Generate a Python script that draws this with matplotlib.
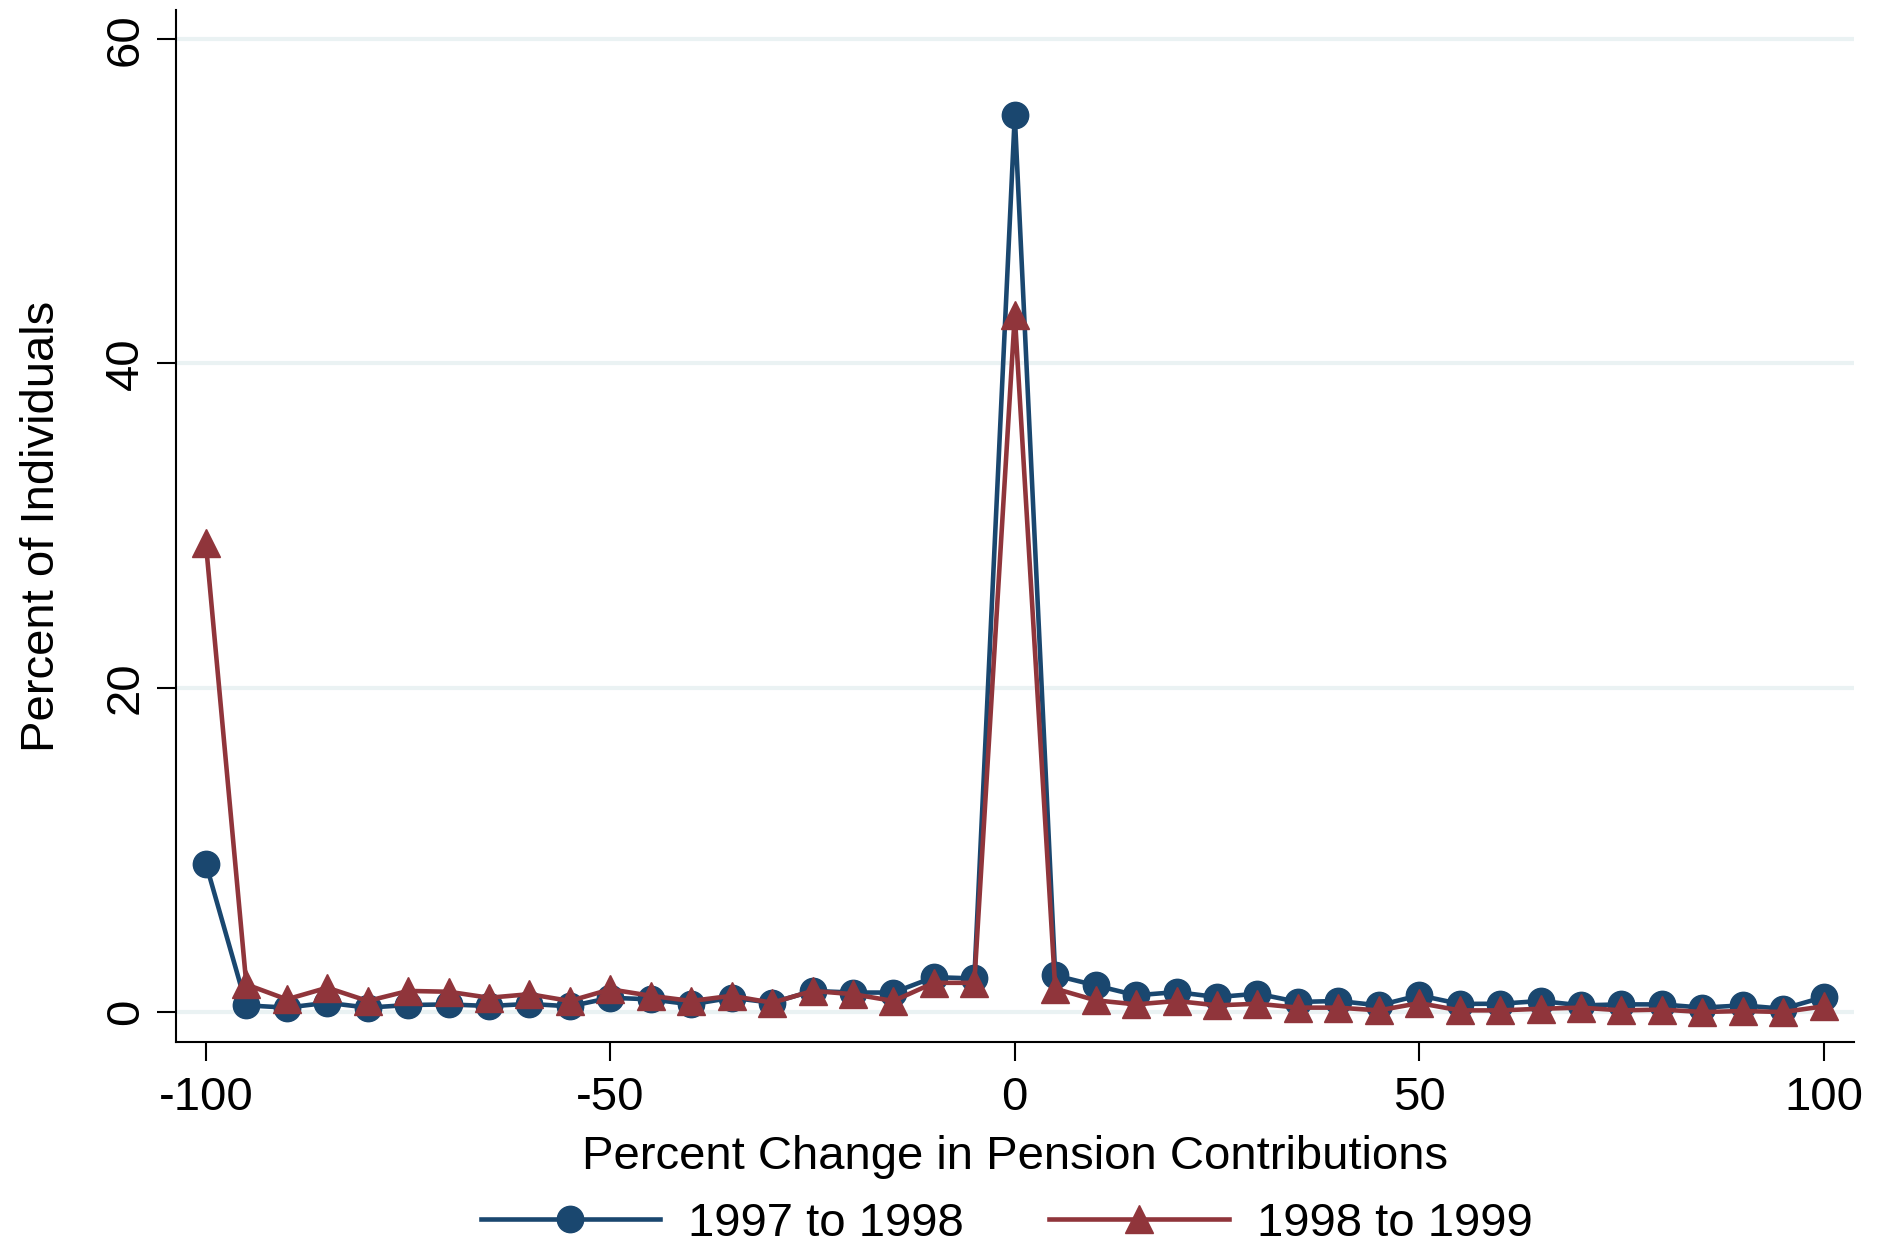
import matplotlib.pyplot as plt

plt.rcParams['font.family'] = ['Liberation Sans', 'DejaVu Sans']
plt.rcParams['axes.unicode_minus'] = False

# percent change bins, -100 to 100 in steps of 5
pct_change = list(range(-100, 105, 5))

# 1997 to 1998
share_9798 = [9.15, 0.41, 0.27, 0.57, 0.27, 0.43, 0.47, 0.37, 0.5, 0.35,
              0.88, 0.78, 0.47, 0.88, 0.57, 1.3, 1.2, 1.2, 2.15, 2.07,
              55.3,
              2.26, 1.64, 1.03, 1.23, 0.92, 1.13, 0.62, 0.68, 0.41, 1.03,
              0.5, 0.51, 0.68, 0.41, 0.47, 0.47, 0.27, 0.41, 0.2, 0.92]

# 1998 to 1999
share_9899 = [28.9, 1.7, 0.78, 1.5, 0.68, 1.3, 1.25, 0.88, 1.1, 0.68,
              1.4, 1.0, 0.68, 1.0, 0.57, 1.3, 1.1, 0.68, 1.8, 1.8,
              43.0,
              1.44, 0.72, 0.47, 0.68, 0.41, 0.51, 0.27, 0.27, 0.1, 0.55,
              0.1, 0.1, 0.2, 0.27, 0.1, 0.15, 0.0, 0.06, 0.0, 0.35]

navy = '#1a476f'
maroon = '#90353b'
fs = 34

fig = plt.figure(figsize=(18.78, 12.43), dpi=100)
ax = fig.add_axes([0.0937, 0.1617, 0.8933, 0.8303])

ax.plot(pct_change, share_9798, color=navy, lw=3.3, marker='o', ms=19,
        label='1997 to 1998', zorder=3)
ax.plot(pct_change, share_9899, color=maroon, lw=3.3, marker='^', ms=20,
        label='1998 to 1999', zorder=4)

ax.set_xlim(-103.7, 103.7)
ax.set_ylim(-1.85, 61.8)
ax.set_xticks([-100, -50, 0, 50, 100])
ax.set_yticks([0, 20, 40, 60])
ax.grid(axis='y', color='#eaf2f3', lw=3)
ax.set_axisbelow(True)
for s in ['top', 'right']:
    ax.spines[s].set_visible(False)
for s in ['left', 'bottom']:
    ax.spines[s].set_linewidth(1.5)
ax.tick_params(labelsize=fs, length=13.7, width=1.5, direction='out')
ax.tick_params(axis='x', pad=11)
ax.tick_params(axis='y', pad=6.5)
plt.setp(ax.get_yticklabels(), rotation=90, va='center')

ax.set_xlabel('Percent Change in Pension Contributions', fontsize=fs, labelpad=10.5)
ax.set_ylabel('Percent of Individuals', fontsize=fs, labelpad=29)

fig.legend(loc='center', bbox_to_anchor=(0.536, 0.0155), ncol=2,
           frameon=False, fontsize=fs, handlelength=3.8, columnspacing=1.8,
           handletextpad=0.6, borderaxespad=0, borderpad=0)

fig.savefig('out.png', dpi=100)
